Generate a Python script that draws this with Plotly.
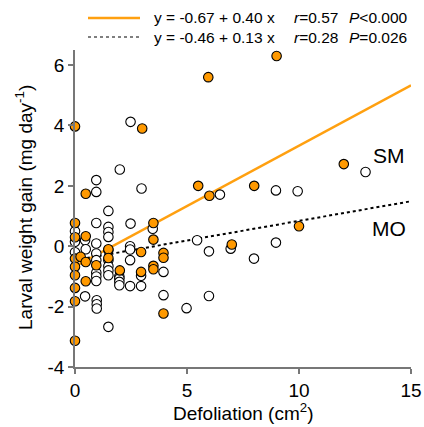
import plotly.graph_objects as go

# SM (orange, filled)
sm_x = [0, 0.48, 0, 0, 0.48, 3.0, 5.95, 9.0, 5.5, 6.0, 8.0, 12.0, 10.0, 7.0,
        3.5, 3.5, 2.95, 3.95, 3.95, 2.95, 3.5, 3.5, 3.95,
        0, 0.25, 0.48, 0, 0, 0.48, 0, 0, 0, 0.95, 1.49, 1.49, 2.0]
sm_y = [3.97, 1.74, 0.77, 0.3, 0.33, 3.9, 5.6, 6.3, 2.0, 1.67, 2.0, 2.72, 0.66, 0.06,
        0.77, 0.22, -0.19, -0.22, -0.38, -0.85, -0.65, -0.76, -2.23,
        -0.41, -0.35, -0.52, -0.68, -0.96, -1.16, -1.38, -1.82, -3.13, -0.63, -0.1, -0.39, -0.8]

# MO (open circles)
mo_x = [2.48, 2.0, 0.95, 0.95, 2.97, 1.49, 0.95, 2.48, 1.49, 1.49, 1.49, 3.47,
        0, 0, 0, 0.45, 0.48, 0.95, 0.95, 0.95, 0.95, 0.95, 0.95,
        1.49, 1.49, 1.49, 1.49, 1.49, 1.98, 1.98, 1.98, 1.98,
        2.46, 2.46, 2.46, 2.46, 2.95, 2.95, 3.95, 3.95, 4.98,
        0.45, 0.97, 0.97, 0.97, 1.49,
        5.45, 5.98, 6.95, 7.99, 8.97, 5.98, 6.47, 8.97, 9.94, 12.97]
mo_y = [4.12, 2.54, 2.19, 1.8, 1.91, 1.17, 0.77, 0.75, 0.64, 0.47, 0.31, 0.58,
        0.5, 0.15, -0.2, 0.2, -0.1, 0.09, -0.24, -0.46, -0.88, -1.0, -1.15,
        -0.13, -0.46, -0.66, -0.8, -0.96, -1.0, -1.07, -1.18, -1.29,
        0.0, -0.11, -0.46, -1.32, -0.98, -1.32, -0.85, -1.62, -2.05,
        -1.66, -1.79, -1.92, -2.06, -2.67,
        0.2, -0.17, -0.08, -0.41, 0.12, -1.65, 1.71, 1.85, 1.82, 2.46]

# regression lines
line_x = [0, 15]
sm_a, sm_b = -0.67, 0.40
mo_a, mo_b = -0.46, 0.13
sm_line_y = [sm_a + sm_b * x for x in line_x]
mo_line_y = [mo_a + mo_b * x for x in line_x]

x_ticks = [0, 5, 10, 15]
y_ticks = [-4, -2, 0, 2, 4, 6]
y_ticktext = ["-4", "-2", "0", "2", "4", "6"]

legend_rows = [
    ("y = -0.67 + 0.40 x", "<i>r</i>=0.57", "<i>P</i>&lt;0.000"),
    ("y = -0.46 + 0.13 x", "<i>r</i>=0.28", "<i>P</i>=0.026"),
]

ORANGE = "#FF9900"
FONT = "Liberation Sans, Arial, sans-serif"

fig = go.Figure()
fig.add_trace(go.Scatter(x=line_x, y=sm_line_y, mode="lines",
                         line=dict(color="#FFA010", width=2.5), showlegend=False))
fig.add_trace(go.Scatter(x=line_x, y=mo_line_y, mode="lines",
                         line=dict(color="black", width=2, dash="dot"), showlegend=False))
fig.add_trace(go.Scatter(x=mo_x, y=mo_y, mode="markers", cliponaxis=False,
                         marker=dict(size=9.5, color="white", line=dict(color="black", width=1.1)),
                         showlegend=False))
fig.add_trace(go.Scatter(x=sm_x, y=sm_y, mode="markers", cliponaxis=False,
                         marker=dict(size=9.5, color=ORANGE, line=dict(color="black", width=1.1)),
                         showlegend=False))

# plot area: x px 75..411, y px 50..367
def px_x(p):
    return (p - 75) / 336.0

def px_y(p):
    return (367 - p) / 317.0

shapes = [
    dict(type="line", xref="paper", yref="paper", x0=px_x(88), x1=px_x(140),
         y0=px_y(18), y1=px_y(18), line=dict(color="#FFA010", width=2.5)),
    dict(type="line", xref="paper", yref="paper", x0=px_x(88), x1=px_x(140),
         y0=px_y(37), y1=px_y(37), line=dict(color="black", width=1.2, dash="dot")),
]
annotations = []
for i, (eq, r, p) in enumerate(legend_rows):
    yy = px_y(18 + 19 * i)
    for txt, xp in ((eq, 152), (r, 292), (p, 347)):
        annotations.append(dict(text=txt, xref="paper", yref="paper", x=px_x(xp), y=yy,
                                xanchor="left", yanchor="middle", showarrow=False,
                                font=dict(size=15.5, color="black", family=FONT)))
annotations.append(dict(text="SM", x=14.0, y=3.0, xref="x", yref="y", showarrow=False,
                        xanchor="center", yanchor="middle",
                        font=dict(size=21, color="black", family=FONT)))
annotations.append(dict(text="MO", x=14.0, y=0.6, xref="x", yref="y", showarrow=False,
                        xanchor="center", yanchor="middle",
                        font=dict(size=21, color="black", family=FONT)))
# axis titles placed explicitly
annotations.append(dict(text="Defoliation (cm<sup>2</sup>)", xref="paper", yref="paper",
                        x=0.5, y=px_y(412), xanchor="center", yanchor="middle", showarrow=False,
                        font=dict(size=19, color="black", family=FONT)))
annotations.append(dict(text="Larval weight gain (mg day<sup>-1</sup>)", xref="paper", yref="paper",
                        x=px_x(24), y=px_y(208), xanchor="center", yanchor="middle", showarrow=False,
                        textangle=-90, font=dict(size=19, color="black", family=FONT)))

fig.update_layout(
    width=424, height=427,
    margin=dict(l=75, r=13, t=50, b=60),
    paper_bgcolor="white", plot_bgcolor="white",
    font=dict(family=FONT, color="black"),
    shapes=shapes, annotations=annotations,
    xaxis=dict(range=[0, 15], tickvals=x_ticks, showgrid=False, zeroline=False,
               automargin=False,
               showline=True, linecolor="#777777", linewidth=1.5,
               ticks="outside", ticklen=5, tickcolor="#777777", tickwidth=1.5,
               tickfont=dict(size=19, color="black")),
    yaxis=dict(range=[-4, 6.5], tickvals=y_ticks, ticktext=y_ticktext, showgrid=False,
               automargin=False,
               zeroline=False, showline=True, linecolor="#777777", linewidth=1.5,
               ticks="outside", ticklen=5, tickcolor="#777777", tickwidth=1.5,
               tickfont=dict(size=19, color="black")),
)

fig.write_html("out.html", config={"displayModeBar": False},
               post_script="document.body.style.margin='0';document.body.style.overflow='hidden';")
